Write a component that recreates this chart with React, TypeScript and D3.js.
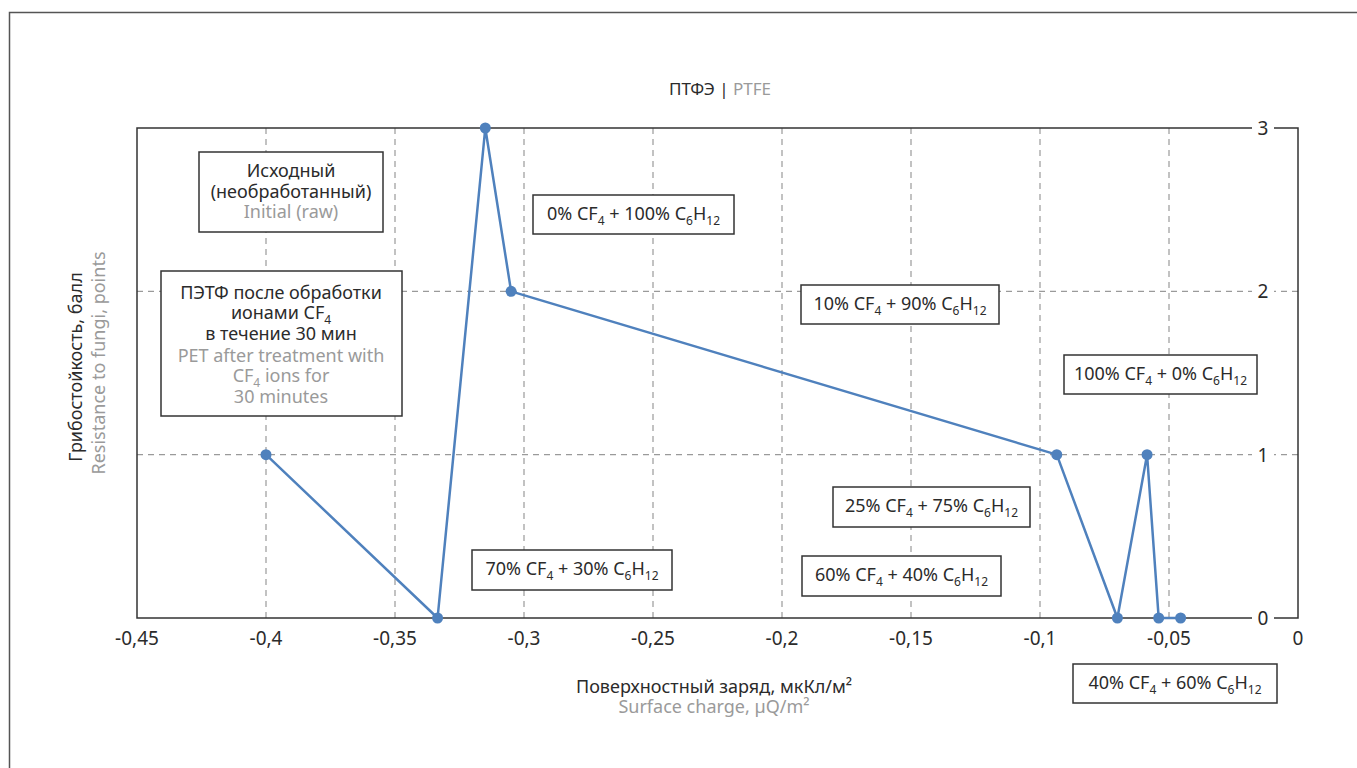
import React from 'react';
import * as d3 from 'd3';

// data
const xValues = [-0.4, -0.3335, -0.315, -0.305, -0.0935, -0.07, -0.0585, -0.054, -0.0455];
const yValues = [1, 0, 3, 2, 1, 0, 1, 0, 0];
const xTicks = [-0.45, -0.4, -0.35, -0.3, -0.25, -0.2, -0.15, -0.1, -0.05, 0];
const yTicks = [0, 1, 2, 3];

const titleRu = 'ПТФЭ |';
const titleEn = 'PTFE';
const xTitleRu = 'Поверхностный заряд, мкКл/м²';
const xTitleEn = 'Surface charge, µQ/m²';
const yTitleRu = 'Грибостойкость, балл';
const yTitleEn = 'Resistance to fungi, points';

// gas mixtures: CF4 % / C6H12 %
const mixCF4 = [0, 10, 100, 25, 70, 60, 40];
const mixC6H12 = [100, 90, 0, 75, 30, 40, 60];

const W = 1357;
const H = 768;
const plot = { left: 137, right: 1298, top: 128, bottom: 618 };

const DARK = '#2b2b2b';
const GRAY = '#9a9a9a';
const BLUE = '#4f81bd';
const FONT = '"Noto Sans", "Open Sans", sans-serif';
const FS = 18;

// layout of the annotation boxes (pixels)
const mixBoxes = [
  { x: 533, y: 195, w: 201, h: 39 },
  { x: 801, y: 285, w: 198, h: 39 },
  { x: 1064, y: 355, w: 193, h: 39 },
  { x: 833, y: 487, w: 197, h: 40 },
  { x: 472, y: 550, w: 200, h: 40 },
  { x: 802, y: 556, w: 199, h: 40 },
  { x: 1073, y: 664, w: 204, h: 39 },
];

// text pieces as [normal, subscript]
type Piece = [string, string];

const Chem = ({ pieces }: { pieces: Piece[] }) => (
  <>
    {pieces.map(([t, s], i) => (
      <React.Fragment key={i}>
        <tspan dy={i > 0 && pieces[i - 1][1] ? -5 : 0}>{t}</tspan>
        {s ? <tspan fontSize={12} dy={5}>{s}</tspan> : null}
      </React.Fragment>
    ))}
  </>
);

const formula = (a: number, b: number): Piece[] => [
  [`${a}% CF`, '4'],
  [` + ${b}% C`, '6'],
  ['H', '12'],
];

export default function App() {
  const x = d3.scaleLinear().domain([-0.45, 0]).range([plot.left, plot.right]);
  const y = d3.scaleLinear().domain([0, 3]).range([plot.bottom, plot.top]);
  const fmt = (v: number) => (v === 0 ? '0' : String(v).replace('.', ','));

  const line = d3
    .line<number>()
    .x((_, i) => x(xValues[i]))
    .y((d) => y(d));

  const labelX = 1263;

  return (
    <svg
      width={W}
      height={H}
      style={{ position: 'absolute', left: 0, top: 0, background: '#fff' }}
      fontFamily={FONT}
      fontSize={FS}
    >
      <rect x={9.5} y={12.5} width={W + 20} height={H + 20} fill="#fff" stroke="#555" strokeWidth={1.5} />

      {/* title */}
      <text x={720} y={95} textAnchor="middle" fontSize={17} fill={DARK}>
        {titleRu} <tspan fill={GRAY}>{titleEn}</tspan>
      </text>

      {/* grid */}
      {xTicks.slice(1, -1).map((t) => (
        <line key={'gx' + t} x1={x(t)} x2={x(t)} y1={plot.top} y2={plot.bottom}
          stroke={GRAY} strokeWidth={1.2} strokeDasharray="6,5" />
      ))}
      {yTicks.slice(1, -1).map((t) => (
        <line key={'gy' + t} x1={plot.left} x2={plot.right} y1={y(t)} y2={y(t)}
          stroke={GRAY} strokeWidth={1.2} strokeDasharray="6,5" />
      ))}

      {/* frame */}
      <rect x={plot.left} y={plot.top} width={plot.right - plot.left} height={plot.bottom - plot.top}
        fill="none" stroke="#333" strokeWidth={1.5} />

      {/* y tick labels inside right side */}
      {yTicks.map((t) => (
        <g key={'yt' + t}>
          <rect x={labelX - 11} y={y(t) - 9} width={22} height={18} fill="#fff" />
          <text x={labelX} y={y(t) + 7} textAnchor="middle" fontSize={19} fill={DARK}>{t}</text>
        </g>
      ))}

      {/* x tick labels */}
      {xTicks.map((t) => (
        <text key={'xt' + t} x={x(t)} y={645} textAnchor="middle" fontSize={19} fill={DARK}>
          {fmt(t)}
        </text>
      ))}

      {/* axis titles */}
      <text x={714} y={693} textAnchor="middle" fill={DARK}>{xTitleRu}</text>
      <text x={714} y={713} textAnchor="middle" fill={GRAY}>{xTitleEn}</text>
      <text transform="translate(82,367) rotate(-90)" textAnchor="middle" fill={DARK}>{yTitleRu}</text>
      <text transform="translate(105,363) rotate(-90)" textAnchor="middle" fill={GRAY}>{yTitleEn}</text>

      {/* annotations */}
      <rect x={199} y={152} width={184} height={80} fill="#fff" stroke="#333" strokeWidth={1.5} />
      <text x={291} y={177} textAnchor="middle" fill={DARK}>Исходный</text>
      <text x={291} y={198} textAnchor="middle" fill={DARK}>(необработанный)</text>
      <text x={291} y={218} textAnchor="middle" fill={GRAY}>Initial (raw)</text>

      <rect x={161} y={271} width={241} height={145} fill="#fff" stroke="#333" strokeWidth={1.5} />
      <text x={281} y={299} textAnchor="middle" fill={DARK}>ПЭТФ после обработки</text>
      <text x={281} y={319} textAnchor="middle" fill={DARK}>
        <Chem pieces={[['ионами CF', '4']]} />
      </text>
      <text x={281} y={340} textAnchor="middle" fill={DARK}>в течение 30 мин</text>
      <text x={281} y={362} textAnchor="middle" fill={GRAY}>PET after treatment with</text>
      <text x={281} y={382} textAnchor="middle" fill={GRAY}>
        <Chem pieces={[['CF', '4'], [' ions for', '']]} />
      </text>
      <text x={281} y={403} textAnchor="middle" fill={GRAY}>30 minutes</text>

      {mixBoxes.map((b, i) => (
        <g key={'mb' + i}>
          <rect x={b.x} y={b.y} width={b.w} height={b.h} fill="#fff" stroke="#333" strokeWidth={1.5} />
          <text x={b.x + b.w / 2} y={b.y + b.h / 2 + 5} textAnchor="middle" fill={DARK}>
            <Chem pieces={formula(mixCF4[i], mixC6H12[i])} />
          </text>
        </g>
      ))}

      {/* series */}
      <path d={line(yValues) || ''} fill="none" stroke={BLUE} strokeWidth={2.5} strokeLinejoin="round" />
      {yValues.map((v, i) => (
        <circle key={'p' + i} cx={x(xValues[i])} cy={y(v)} r={5.5} fill={BLUE} />
      ))}
    </svg>
  );
}
